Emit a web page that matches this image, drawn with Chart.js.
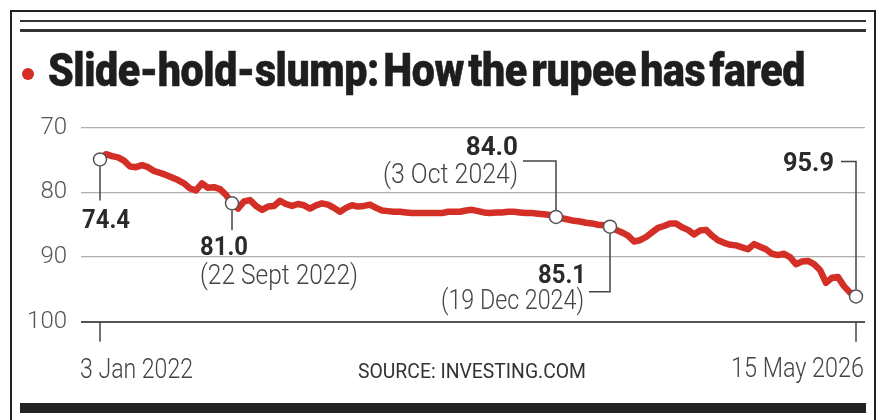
<!DOCTYPE html>
<html>
<head>
<meta charset="utf-8">
<script src="https://cdn.jsdelivr.net/npm/chart.js@4.4.1/dist/chart.umd.min.js"></script>
<style>
  html, body { margin: 0; padding: 0; background: #fff; }
  #wrap { position: relative; width: 882px; height: 420px; overflow: hidden; background: #fff; }
  #chart { position: absolute; left: 0; top: 0; }
  #frame { position: absolute; left: 10px; top: 10px; width: 866px; height: 440px;
           border: 2px solid #222; box-sizing: border-box; }
  .rule { position: absolute; left: 20px; width: 846px; background: #333; }
  #rule1 { top: 20px; height: 2px; }
  #rule2 { top: 29px; height: 3px; }
  #bar { position: absolute; left: 20px; width: 846px; top: 403px; height: 10px; background: #222; }
  #dot { position: absolute; left: 22px; top: 68px; width: 12px; height: 12px;
         border-radius: 50%; background: #d42f26; }
  #title { position: absolute; left: 48px; top: 43px; font: 900 46px Roboto, sans-serif;
           color: #1e1e1e; white-space: nowrap; transform-origin: 0 0;
           letter-spacing: -0.5px; word-spacing: -6px; -webkit-text-stroke: 0.5px #1e1e1e; }
  #source { position: absolute; top: 359px; font: 400 21px Roboto, sans-serif;
            color: #333; white-space: nowrap; transform-origin: 0 0; }
</style>
</head>
<body>
<div id="wrap">
  <canvas id="chart" width="882" height="420"></canvas>
  <div id="frame"></div>
  <div class="rule" id="rule1"></div>
  <div class="rule" id="rule2"></div>
  <div id="dot"></div>
  <div id="title">Slide-hold-slump: How the rupee has fared</div>
  <div id="source">SOURCE: INVESTING.COM</div>
  <div id="bar"></div>
</div>
<script>
// Rupee per US dollar, evenly spaced samples from 3 Jan 2022 to 15 May 2026
const rates = [
  74.9, 74.1, 74.4, 74.6, 75.1, 76.0, 76.1, 75.8, 76.1, 76.7,
  77.0, 77.3, 77.7, 78.1, 78.6, 79.4, 79.7, 78.6, 79.3, 79.2,
  79.5, 80.4, 81.7, 82.5, 81.4, 81.2, 82.1, 82.7, 82.2, 82.1,
  81.3, 81.8, 82.1, 81.8, 82.0, 82.5, 82.0, 81.7, 81.9, 82.4,
  83.0, 82.4, 82.0, 82.2, 82.1, 81.9, 82.4, 82.8, 82.9, 83.0,
  83.0, 83.1, 83.2, 83.2, 83.2, 83.2, 83.2, 83.2, 83.0, 83.0,
  83.0, 82.8, 82.7, 82.9, 83.1, 83.2, 83.1, 83.1, 83.0, 83.0,
  83.1, 83.2, 83.2, 83.3, 83.4, 83.5, 83.8, 84.0, 84.2, 84.4,
  84.5, 84.7, 84.8, 85.0, 85.1, 85.3, 85.8, 86.2, 86.7, 87.6,
  87.4, 86.9, 86.2, 85.5, 85.2, 84.8, 84.8, 85.4, 85.8, 86.5,
  85.9, 85.8, 86.7, 87.4, 87.8, 88.1, 88.2, 88.5, 88.8, 88.0,
  88.4, 88.8, 89.5, 89.7, 89.5, 90.0, 91.1, 90.7, 90.6, 91.1,
  92.0, 94.0, 93.2, 93.1, 94.5, 95.5, 96.1
];

const yTicks = [70, 80, 90, 100];
const xLabels = ['3 Jan 2022', '15 May 2026'];

// Highlighted points: sample index, value label, date label
const markerIndex = [0, 22, 76, 85, 126];
const markerValue = ['74.4', '81.0', '84.0', '85.1', '95.9'];
const markerDate = ['', '(22 Sept 2022)', '(3 Oct 2024)', '(19 Dec 2024)', ''];

const rupee = (() => {
  const RED = '#d42f26';
  const INK = '#444';

  // Leader lines and label offsets, relative to each marker's circle
  const MARKER_LAYOUT = [
    { lead: [[0, 7], [0, 41]], value: [-18, 69, 'left', 48], date: null },
    { lead: [[0, 7], [0, 27]], value: [-32, 52, 'left', 48], date: [-32, 81, 'left', 158] },
    { lead: [[0, -7], [0, -56], [-33, -56]], value: [-38, -62, 'right', 54], date: [-38, -34, 'right', 135] },
    { lead: [[0, 7], [0, 65], [-21, 65]], value: [-24, 56, 'right', 48], date: [-26, 82, 'right', 143] },
    { lead: [[0, -7], [0, -135], [-15, -135]], value: [-22, -125, 'right', 51], date: null },
  ];

  const annotate = {
    id: 'annotate',
    afterDatasetsDraw(chart) {
      const { ctx, scales: { x, y } } = chart;
      ctx.save();

      // end ticks and date labels on the x axis
      const ends = [0, rates.length - 1];
      ctx.strokeStyle = INK;
      ctx.lineWidth = 1.5;
      ends.forEach(i => {
        const px = x.getPixelForValue(i);
        ctx.beginPath();
        ctx.moveTo(px, y.bottom);
        ctx.lineTo(px, y.bottom + 20);
        ctx.stroke();
      });
      ctx.fillStyle = INK;
      ctx.font = '300 28px Roboto';
      ctx.textBaseline = 'alphabetic';
      ctx.textAlign = 'left';
      ctx.fillText(xLabels[0], x.getPixelForValue(0) - 20, 378, 113);
      ctx.textAlign = 'right';
      ctx.fillText(xLabels[1], x.getPixelForValue(rates.length - 1) + 8, 377, 133);

      // markers
      markerIndex.forEach((idx, k) => {
        const px = x.getPixelForValue(idx);
        const py = y.getPixelForValue(rates[idx]);
        const lay = MARKER_LAYOUT[k];

        ctx.strokeStyle = INK;
        ctx.lineWidth = 1.5;
        ctx.beginPath();
        lay.lead.forEach(([dx, dy], j) => {
          if (j === 0) ctx.moveTo(px + dx, py + dy);
          else ctx.lineTo(px + dx, py + dy);
        });
        ctx.stroke();

        ctx.beginPath();
        ctx.arc(px, py, 6.5, 0, Math.PI * 2);
        ctx.fillStyle = '#fff';
        ctx.fill();
        ctx.strokeStyle = '#555';
        ctx.stroke();

        const [vx, vy, va, vw] = lay.value;
        ctx.fillStyle = '#2a2a2a';
        ctx.font = '700 26px Roboto';
        ctx.textAlign = va;
        ctx.fillText(markerValue[k], px + vx, py + vy, vw);

        if (lay.date) {
          const [dx, dy, da, dw] = lay.date;
          ctx.fillStyle = INK;
          ctx.font = '300 27px Roboto';
          ctx.textAlign = da;
          ctx.fillText(markerDate[k], px + dx, py + dy, dw);
        }
      });
      ctx.restore();
    },
  };

  /**
   * Squeeze an HTML text line to the width it has in the print version.
   */
  function fitText(id, width, centerX) {
    const el = document.getElementById(id);
    const natural = el.getBoundingClientRect().width;
    el.style.transform = 'scaleX(' + (width / natural) + ')';
    if (centerX !== undefined) el.style.left = (centerX - width / 2) + 'px';
  }

  function render() {
    const canvas = document.getElementById('chart');
    const last = rates.length - 1;
    // one sample every 6px, first at x=100, last at x=856
    const step = (856 - 100) / last;

    new Chart(canvas, {
      type: 'line',
      data: {
        datasets: [{
          data: rates.map((v, i) => ({ x: i, y: v })),
          borderColor: RED,
          borderWidth: 6.5,
          borderJoinStyle: 'round',
          borderCapStyle: 'round',
          pointRadius: 0,
          tension: 0,
        }],
      },
      options: {
        responsive: false,
        animation: false,
        layout: { padding: { top: 127.7, bottom: 98.3, left: 0, right: 17 } },
        plugins: {
          legend: { display: false },
          tooltip: { enabled: false },
        },
        scales: {
          x: {
            type: 'linear',
            display: false,
            min: -(100 - 81) / step,
            max: last + (865 - 856) / step,
          },
          y: {
            reverse: true,
            min: yTicks[0],
            max: yTicks[yTicks.length - 1],
            afterFit: s => { s.width = 81; },
            afterBuildTicks: s => { s.ticks = yTicks.map(v => ({ value: v })); },
            ticks: {
              padding: 14,
              color: '#555',
              font: { family: 'Roboto', size: 24, weight: '300' },
            },
            grid: {
              drawTicks: false,
              color: c => (c.tick && c.tick.value === 100 ? '#555' : '#b0b0b0'),
              lineWidth: c => (c.tick && c.tick.value === 100 ? 2 : 1.3),
            },
            border: { display: false },
          },
        },
      },
      plugins: [annotate],
    });

    fitText('title', 757);
    fitText('source', 228, 472);
  }

  return { render };
})();

rupee.render();
</script>
</body>
</html>
